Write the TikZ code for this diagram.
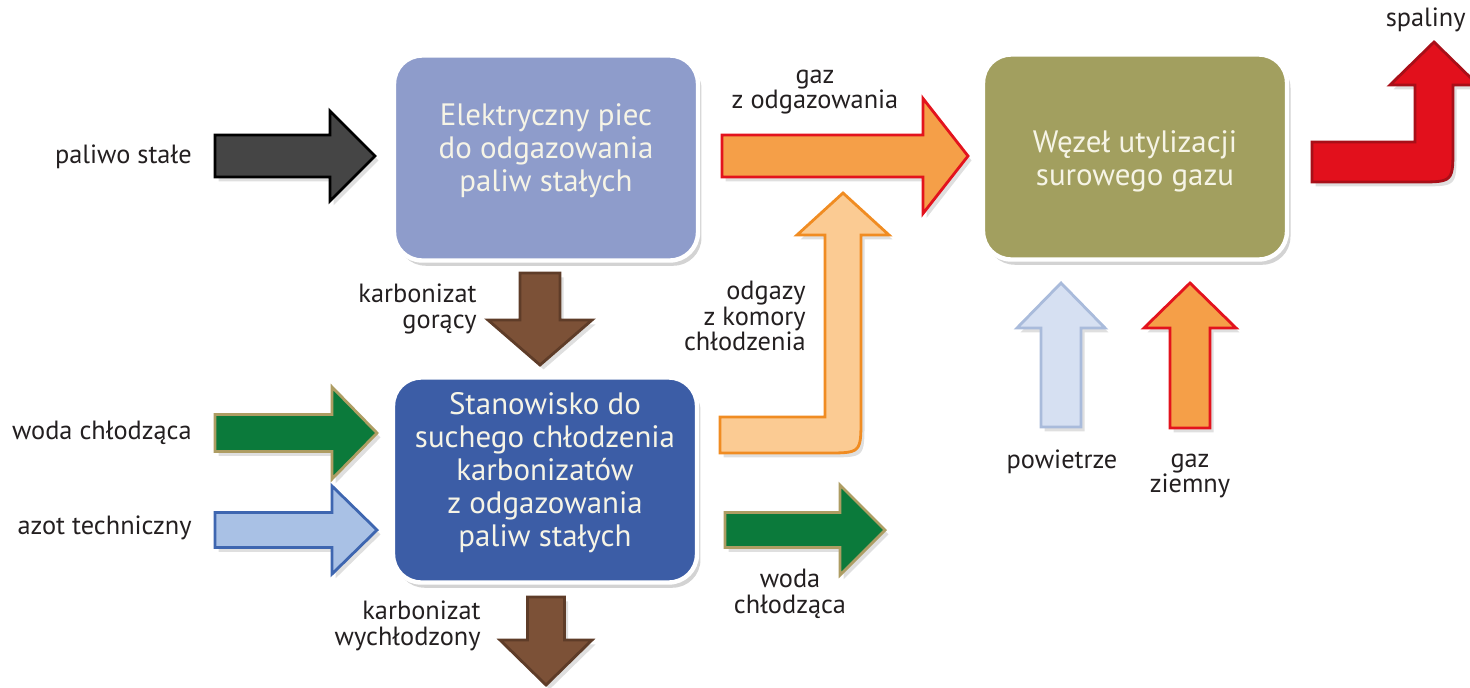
\documentclass[tikz,border=0pt]{standalone}
\usepackage{fontspec}
\setmainfont{PT Sans}
\usepackage{tikz}
\usetikzlibrary{positioning,shadows}
\definecolor{piecBlue}{HTML}{8E9CCB}
\definecolor{chlodBlue}{HTML}{3C5DA6}
\definecolor{wezelOlive}{HTML}{A29F5F}
\definecolor{boxText}{HTML}{F6F4E6}
\definecolor{coalGray}{HTML}{454545}
\definecolor{waterGreen}{HTML}{0B7A3B}
\definecolor{waterEdge}{HTML}{AE9D63}
\definecolor{nitroFill}{HTML}{A9C1E5}
\definecolor{nitroEdge}{HTML}{3E66B0}
\definecolor{carbBrown}{HTML}{7C5137}
\definecolor{carbEdge}{HTML}{5E3C28}
\definecolor{gasOrange}{HTML}{F59F48}
\definecolor{gasRed}{HTML}{E3131D}
\definecolor{offFill}{HTML}{FBCB93}
\definecolor{offEdge}{HTML}{F08C22}
\definecolor{airFill}{HTML}{D6E0F2}
\definecolor{airEdge}{HTML}{A9BBDB}
\definecolor{flueRed}{HTML}{E2101C}
\definecolor{flueEdge}{HTML}{A80F18}
\definecolor{labelText}{HTML}{231F20}
\tikzset{
    arrowShadow/.style={drop shadow={shadow xshift=2pt, shadow yshift=-2.5pt, opacity=0.25}},
    pics/blockArrow/.style n args={3}{code={
		\path[pic actions, arrowShadow, line width=1.6pt, line join=miter]
			(0,{-#2/2}) -- ({#1-45},{-#2/2}) -- ({#1-45},{-#3/2}) -- (#1,0)
			-- ({#1-45},{#3/2}) -- ({#1-45},{#2/2}) -- (0,{#2/2}) -- cycle;
	}}
}
\tikzset{
    unit/.style={rounded corners=16pt, draw=white, line width=2.5pt,
		minimum width=6.08cm, minimum height=4.1cm,
		drop shadow={shadow xshift=2pt, shadow yshift=-3pt, opacity=0.35}},
    unitText/.style={align=center, text=boxText, inner sep=0pt,
		font=\fontsize{17.6}{18.8}\selectfont},
    lbl/.style={text=labelText, font=\fontsize{15}{14.5}\selectfont, inner sep=0pt},
    coal/.style={fill=coalGray, draw=black},
    water/.style={fill=waterGreen, draw=waterEdge},
    nitro/.style={fill=nitroFill, draw=nitroEdge},
    carb/.style={fill=carbBrown, draw=carbEdge},
    gas/.style={fill=gasOrange, draw=gasRed},
    offgas/.style={fill=offFill, draw=offEdge},
    air/.style={fill=airFill, draw=airEdge},
    flue/.style={fill=flueRed, draw=flueEdge}
}
\begin{document}
\begin{tikzpicture}[x=0.02cm, y=-0.02cm]
		\useasboundingbox (0,0) rectangle (1470,687);
		% units
		\node[unit, fill=piecBlue] (piec) at(546,158) {};
		\node[unit, fill=chlodBlue] (stanowisko) at(545,480) {};
		\node[unit, fill=wezelOlive] (wezel) at(1135,157) {};
		\node[unitText] (piecText) at([yshift=4pt]piec.center) {Elektryczny piec\\do odgazowania\\paliw stałych};
		\node[unitText] (stanowiskoText) at([yshift=4pt]stanowisko.center) {Stanowisko do\\suchego chłodzenia\\karbonizatów\\z odgazowania\\paliw stałych};
		\node[unitText] (wezelText) at([yshift=-2.3pt]wezel.center) {Węzeł utylizacji\\surowego gazu};
		% straight flows
		\pic[coal] at(215,156) {blockArrow={160}{42}{90}};
		\pic[water] at(215,433) {blockArrow={162}{37}{92}};
		\pic[nitro] at(215,530) {blockArrow={162}{35}{88}};
		\pic[carb, rotate=-90] at(540,273) {blockArrow={92}{40}{104}};
		\pic[gas] at(722,156) {blockArrow={246}{42}{115}};
		\pic[water] at(725,530) {blockArrow={160}{35}{90}};
		\pic[carb, rotate=-90] at(546,597) {blockArrow={88}{37}{92}};
		\pic[air, rotate=90] at(1061,427) {blockArrow={144}{40}{88}};
		\pic[gas, rotate=90] at(1190,428) {blockArrow={145}{40}{92}};
		% bent flows
		\path[offgas, arrowShadow, line width=1.6pt] (720,417) -- (825,417) -- (825,235) -- (797,235) -- (843,193)
			-- (889,235) -- (861,235) -- (861,418) .. controls (861,453) .. (826,453) -- (720,453) -- cycle;
		\path[flue, arrowShadow, line width=1.6pt] (1312,142) -- (1415,142) -- (1415,85) -- (1390,85) -- (1434,42)
			-- (1478,85) -- (1453,85) -- (1453,147) .. controls (1453,182) .. (1418,182) -- (1312,182) -- cycle;
		% labels
		\node[lbl, anchor=east] (paliwo) at(192,157) {paliwo stałe};
		\node[lbl, anchor=east] (wodaIn) at(192,433) {woda chłodząca};
		\node[lbl, anchor=east] (azot) at(192,528) {azot techniczny};
		\node[lbl, anchor=east, align=right] (karbGor) at(477,309) {karbonizat\\gorący};
		\node[lbl, align=center] (gazOdg) at(815,92) {gaz\\z odgazowania};
		\node[lbl, anchor=east, align=right] (odgazy) at(806,316) {odgazy\\z komory\\chłodzenia};
		\node[lbl, align=center] (wodaOut) at(790,594) {woda\\chłodząca};
		\node[lbl, anchor=east, align=right] (karbWych) at(481,626) {karbonizat\\wychłodzony};
		\node[lbl] (powietrze) at(1062,462) {powietrze};
		\node[lbl, align=center] (gazZiem) at(1190,476) {gaz\\ziemny};
		\node[lbl, anchor=east] (spaliny) at(1466,20) {spaliny};
\end{tikzpicture}
\end{document}
